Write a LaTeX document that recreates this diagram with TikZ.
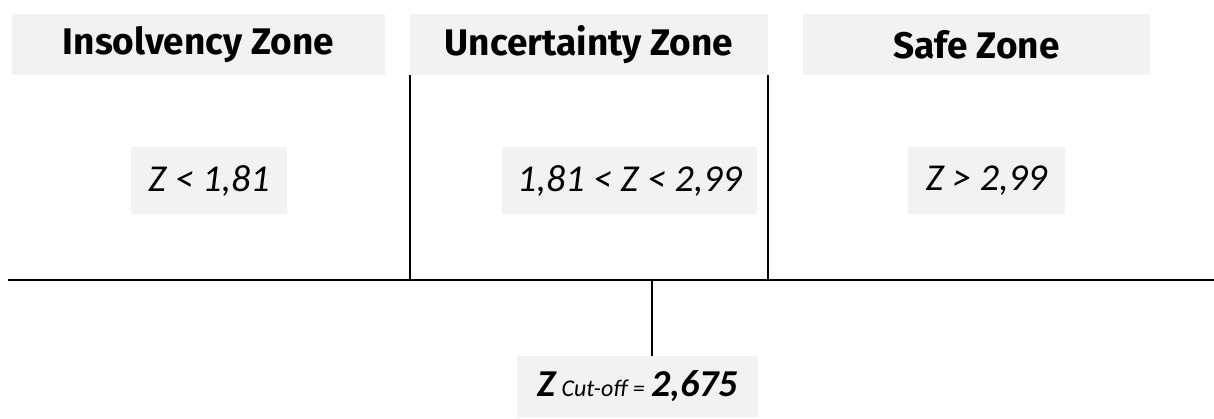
\documentclass[tikz,border=0pt]{standalone}
\usepackage{fontspec}
\setmainfont{Carlito}
\newfontfamily\hdfont{Fira Sans}
\definecolor{boxgray}{HTML}{F2F2F2}
\begin{document}
\begin{tikzpicture}[x=1pt,y=-1pt,
  gbox/.style={fill=boxgray, inner sep=0pt, anchor=center},
  head/.style={gbox, minimum height=61pt, font=\hdfont\bfseries\fontsize{37}{44}\selectfont},
  val/.style={gbox, minimum height=67pt, font=\itshape\fontsize{38}{45}\selectfont},
  ln/.style={draw=black, line width=1.5pt}]
\useasboundingbox (0,0) rectangle (1214,418);
% headers
\node[head, minimum width=373pt] (h1) at (198.5,44.5) {Insolvency Zone};
\node[head, minimum width=358pt] (h2) at (589,44.5) {Uncertainty Zone};
\node[head, minimum width=347pt] (h3) at (976.5,44.5) {Safe Zone};
% values
\node[val, minimum width=156pt] (v1) at (209,180.5) {Z < 1,81};
\node[val, minimum width=255pt] (v2) at (629.5,180.5) {1,81 < Z < 2,99};
\node[val, minimum width=157pt] (v3) at (986.5,180.5) {Z > 2,99};
% bottom
\node[gbox, minimum width=241pt, minimum height=61pt] (cut) at (637.5,386.5)
  {\bfseries\itshape\fontsize{38}{45}\selectfont Z\,{\mdseries\fontsize{24}{28}\selectfont Cut-off =}\,2,675};
% axis
\coordinate (axL) at (8,280);
\coordinate (axR) at (1214,280);
\coordinate (cx) at (652,280);
\draw[ln] (axL) -- (axR);
\draw[ln] (h2.south west) -- (h2.south west |- axL);
\draw[ln] (h2.south east) -- (h2.south east |- axL);
\draw[ln] (cx) -- (cx |- cut.north);
\end{tikzpicture}
\end{document}
